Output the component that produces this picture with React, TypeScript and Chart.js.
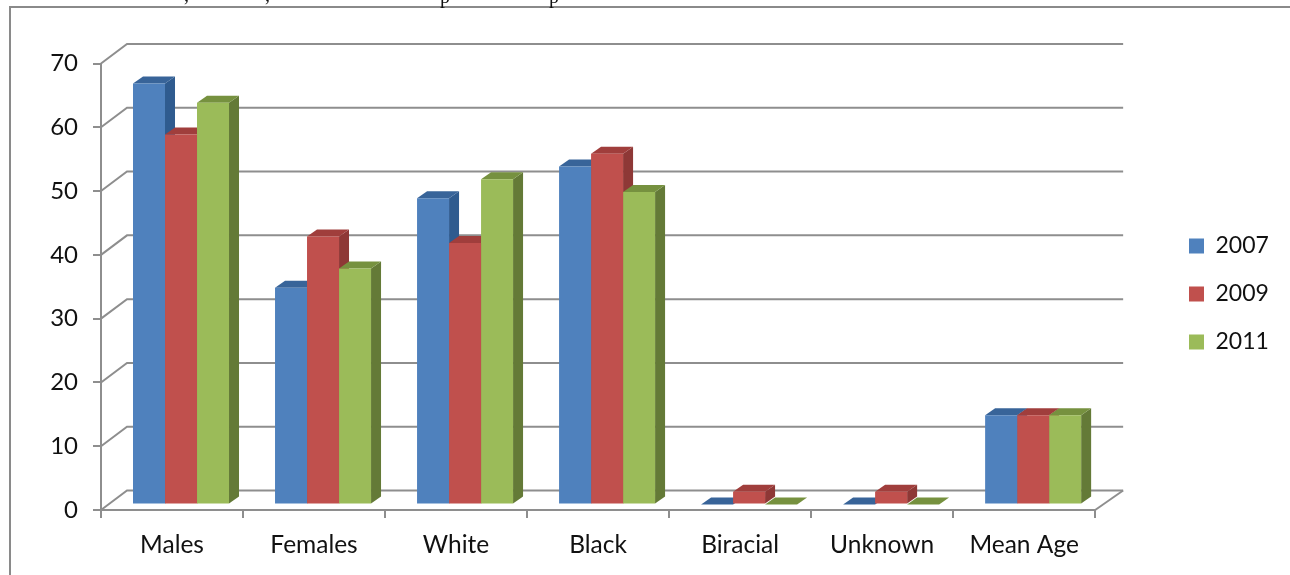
import React, { useEffect, useRef } from "react";
import { Chart, registerables } from "chart.js";

Chart.register(...registerables);

const categories = ["Males", "Females", "White", "Black", "Biracial", "Unknown", "Mean Age"];
const years = ["2007", "2009", "2011"];
const values2007 = [66, 34, 48, 53, 0, 0, 14];
const values2009 = [58, 42, 41, 55, 2, 2, 14];
const values2011 = [63, 37, 51, 49, 0, 0, 14];
const frontColors = ["#4F81BD", "#C0504D", "#9BBB59"];
const sideColors = ["#2F5B8F", "#8E3836", "#647A37"];
const topColors = ["#386499", "#A03E3C", "#76913F"];
const yTicks = [0, 10, 20, 30, 40, 50, 60, 70];

const AXIS_COLOR = "#8E8E8E";
const FONT = "Lato, Carlito, sans-serif";

// Pseudo-3D projection offsets, in pixels.
const WALL_DX = 26;
const WALL_DY = -19.5;
const BAR_SHIFT_X = 9;
const BAR_SHIFT_Y = -5.5;
const DEPTH_DX = 10;
const DEPTH_DY = -7;

function poly(ctx: CanvasRenderingContext2D, color: string, pts: number[][]) {
  ctx.fillStyle = color;
  ctx.beginPath();
  pts.forEach(([x, y], i) => (i ? ctx.lineTo(x, y) : ctx.moveTo(x, y)));
  ctx.closePath();
  ctx.fill();
}

const framePlugin = {
  id: "frame",
  beforeDraw(chart: any) {
    const { ctx } = chart;
    ctx.save();
    // Enclosing frame: left and top edges only.
    ctx.strokeStyle = "#8A8A8A";
    ctx.lineWidth = 2;
    ctx.beginPath();
    ctx.moveTo(10, chart.height);
    ctx.lineTo(10, 7);
    ctx.lineTo(chart.width, 7);
    ctx.stroke();
    // Descenders of the line of running text above the frame.
    ctx.fillStyle = "#111";
    ctx.font = "20px 'Liberation Serif'";
    ctx.textBaseline = "alphabetic";
    ctx.fillText(",", 184, 1);
    ctx.fillText(",", 265, 1);
    ctx.fillText("p", 440, 2.5);
    ctx.fillText("p", 549, 2.5);
    ctx.restore();
  },
};

const legendPlacement = {
  id: "legendPlacement",
  afterLayout(chart: any) {
    const legend = chart.legend;
    const width = legend.width;
    const height = legend.height;
    legend.left = 1164;
    legend.right = legend.left + width;
    legend.top = 294 - height / 2;
    legend.bottom = legend.top + height;
  },
};

const depthPlugin = {
  id: "depth",
  beforeDatasetsDraw(chart: any) {
    const { ctx, chartArea, scales } = chart;
    const yScale = scales.y;
    ctx.save();

    // Back wall gridlines, wall diagonals and the floor's right edge.
    ctx.strokeStyle = AXIS_COLOR;
    ctx.lineWidth = 2;
    yTicks.forEach((t) => {
      const y = yScale.getPixelForValue(t);
      ctx.beginPath();
      ctx.moveTo(chartArea.left, y);
      ctx.lineTo(chartArea.left + WALL_DX, y + WALL_DY);
      ctx.lineTo(chartArea.right + WALL_DX + 2, y + WALL_DY);
      ctx.stroke();
    });
    ctx.beginPath();
    ctx.moveTo(chartArea.right, chartArea.bottom);
    ctx.lineTo(chartArea.right + WALL_DX + 2, chartArea.bottom + WALL_DY);
    ctx.stroke();

    // Side and top faces, painted left to right so nearer bars overlap.
    categories.forEach((_, c) => {
      years.forEach((__, d) => {
        const bar = chart.getDatasetMeta(d).data[c];
        const l = bar.x - bar.width / 2 + BAR_SHIFT_X;
        const r = bar.x + bar.width / 2 + BAR_SHIFT_X;
        const t = bar.y + BAR_SHIFT_Y;
        const b = bar.base + BAR_SHIFT_Y;
        poly(ctx, sideColors[d], [
          [r, t],
          [r + DEPTH_DX, t + DEPTH_DY],
          [r + DEPTH_DX, b + DEPTH_DY],
          [r, b],
        ]);
        poly(ctx, topColors[d], [
          [l, t],
          [l + DEPTH_DX, t + DEPTH_DY],
          [r + DEPTH_DX, t + DEPTH_DY],
          [r, t],
        ]);
      });
    });
    ctx.restore();

    // The front faces sit mid-way through the floor's depth.
    ctx.save();
    ctx.translate(BAR_SHIFT_X, BAR_SHIFT_Y);
  },
  afterDatasetsDraw(chart: any) {
    chart.ctx.restore();
  },
};

export default function App() {
  const canvasRef = useRef<HTMLCanvasElement>(null);

  useEffect(() => {
    const chart = new Chart(canvasRef.current!, {
      type: "bar",
      data: {
        labels: categories,
        datasets: [values2007, values2009, values2011].map((data, i) => ({
          label: years[i],
          data,
          backgroundColor: frontColors[i],
          borderWidth: 0,
          barPercentage: 1,
          categoryPercentage: 0.676,
        })),
      },
      plugins: [framePlugin, legendPlacement, depthPlugin],
      options: {
        responsive: false,
        animation: false,
        layout: { padding: { top: 63.5, right: 80, bottom: 0, left: 0 } },
        plugins: {
          title: { display: false },
          tooltip: { enabled: false },
          legend: {
            position: "right",
            labels: {
              boxWidth: 15,
              boxHeight: 15,
              padding: 25,
              color: "#111",
              font: { family: FONT, size: 23 },
            },
          },
        },
        scales: {
          x: {
            afterFit(scale: any) {
              scale.height = 65;
            },
            grid: {
              drawOnChartArea: false,
              color: AXIS_COLOR,
              lineWidth: 2,
              tickLength: 8,
            },
            border: { color: AXIS_COLOR, width: 2 },
            ticks: {
              color: "#111",
              padding: 12,
              maxRotation: 0,
              font: { family: FONT, size: 24.5 },
            },
          },
          y: {
            min: 0,
            max: 70,
            afterFit(scale: any) {
              scale.width = 101;
            },
            grid: {
              drawOnChartArea: false,
              color: AXIS_COLOR,
              lineWidth: 2,
              tickLength: 8,
            },
            border: { color: AXIS_COLOR, width: 2 },
            ticks: {
              stepSize: 10,
              color: "#111",
              padding: 15,
              font: { family: FONT, size: 24 },
            },
          },
        },
      },
    } as any);
    return () => chart.destroy();
  }, []);

  return (
    <div style={{ position: "absolute", left: 0, top: 0, width: 1290, height: 575, overflow: "hidden", background: "#fff" }}>
      <canvas ref={canvasRef} width={1290} height={575} style={{ display: "block" }} />
    </div>
  );
}
